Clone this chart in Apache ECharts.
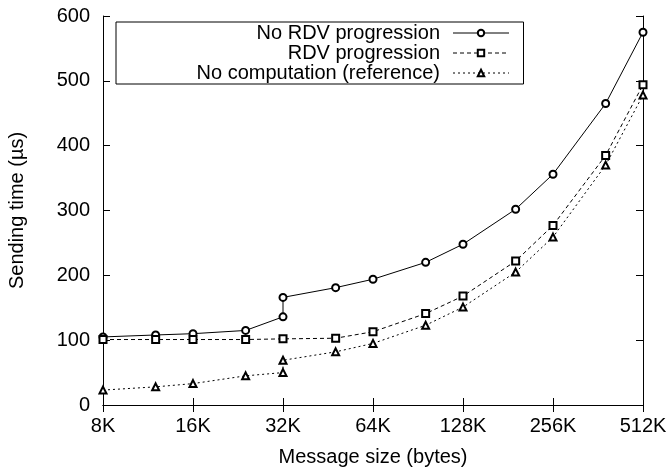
<!DOCTYPE html>
<html>
<head>
<meta charset="utf-8">
<script src="https://cdn.jsdelivr.net/npm/echarts@6/dist/echarts.min.js"></script>
<style>html,body{margin:0;padding:0;background:#fff}#c{width:668px;height:467px}</style>
</head>
<body>
<div id="c"></div>
<script>
// message sizes in KB (32K appears twice: protocol switch)
const sizesA = [8, 12, 16, 24, 32, 32, 48, 64, 96, 128, 192, 256, 384, 512];
const noRdv = [105, 108, 110, 115, 136, 166, 181, 194, 220, 248, 302, 356, 465, 575];
const sizesB = [8, 12, 16, 24, 32, 48, 64, 96, 128, 192, 256, 384, 512];
const rdv = [101, 101, 101, 101, 102, 103, 113, 141, 168, 222, 277, 385, 494];
const noComp = [23, 28, 33, 45, 50, 69, 82, 95, 123, 151, 205, 259, 370, 478];
const xTicks = [8, 16, 32, 64, 128, 256, 512];
const yTicks = [0, 100, 200, 300, 400, 500, 600];

const names = ['No RDV progression', 'RDV progression', 'No computation (reference)'];
const font = 'Liberation Sans, Arial, Helvetica, sans-serif';
const fs = 20;

function pairs(xs, ys) { return xs.map((x, i) => [x, ys[i]]); }

const chart = echarts.init(document.getElementById('c'), null, {renderer: 'canvas'});
const xBase = {
  type: 'log', logBase: 2, min: xTicks[0], max: xTicks[xTicks.length - 1],
  axisLine: {show: true, lineStyle: {color: '#000', width: 1}},
  axisTick: {show: true, inside: true, length: 7, lineStyle: {color: '#000'}},
  splitLine: {show: false}, minorTick: {show: false}
};
const yBase = {
  type: 'value', min: yTicks[0], max: yTicks[yTicks.length - 1], interval: 100,
  axisLine: {show: true, lineStyle: {color: '#000', width: 1}},
  axisTick: {show: true, inside: true, length: 7, lineStyle: {color: '#000'}},
  splitLine: {show: false}
};
chart.setOption({
  animation: false,
  backgroundColor: '#fff',
  textStyle: {fontFamily: font, color: '#000'},
  grid: {left: 103, right: 25, top: 16, bottom: 62, containLabel: false, outerBoundsMode: 'none'},
  legend: {
    orient: 'vertical', left: 116, top: 22, align: 'right',
    data: names,
    borderColor: '#000', borderWidth: 1, padding: [1, 14, 1, 0],
    itemWidth: 56, itemHeight: 8, itemGap: 0,
    lineStyle: {width: 1},
    textStyle: {fontFamily: font, fontSize: fs, color: '#000', width: 324, align: 'right', padding: [0, 8, 0, 0], lineHeight: 20}
  },
  xAxis: [
    Object.assign({}, xBase, {
      position: 'bottom',
      name: 'Message size (bytes)', nameLocation: 'middle', nameGap: 42,
      nameTextStyle: {fontFamily: font, fontSize: fs, color: '#000'},
      axisLabel: {color: '#000', fontFamily: font, fontSize: fs, margin: 11,
        formatter: v => Math.round(v) + 'K'}
    }),
    Object.assign({}, xBase, {position: 'top', axisLabel: {show: false}})
  ],
  yAxis: [
    Object.assign({}, yBase, {
      position: 'left',
      name: 'Sending time (µs)', nameLocation: 'middle', nameGap: 76,
      nameTextStyle: {fontFamily: font, fontSize: fs, color: '#000'},
      axisLabel: {color: '#000', fontFamily: font, fontSize: fs, margin: 13}
    }),
    Object.assign({}, yBase, {position: 'right', axisLabel: {show: false}})
  ],
  series: [
    {
      name: names[0], type: 'line', data: pairs(sizesA, noRdv),
      symbol: 'emptyCircle', symbolSize: 7, showAllSymbol: true,
      lineStyle: {color: '#000', width: 1, type: 'solid'},
      itemStyle: {color: '#000', borderWidth: 1}
    },
    {
      name: names[1], type: 'line', data: pairs(sizesB, rdv),
      symbol: 'emptyRect', symbolSize: 7, showAllSymbol: true,
      lineStyle: {color: '#000', width: 1, type: [4, 3]},
      itemStyle: {color: '#000', borderWidth: 1}
    },
    {
      name: names[2], type: 'line', data: pairs(sizesA, noComp),
      symbol: 'emptyTriangle', symbolSize: 7, showAllSymbol: true,
      lineStyle: {color: '#000', width: 1, type: [2, 3]},
      itemStyle: {color: '#000', borderWidth: 1.3}
    }
  ]
});
</script>
</body>
</html>
